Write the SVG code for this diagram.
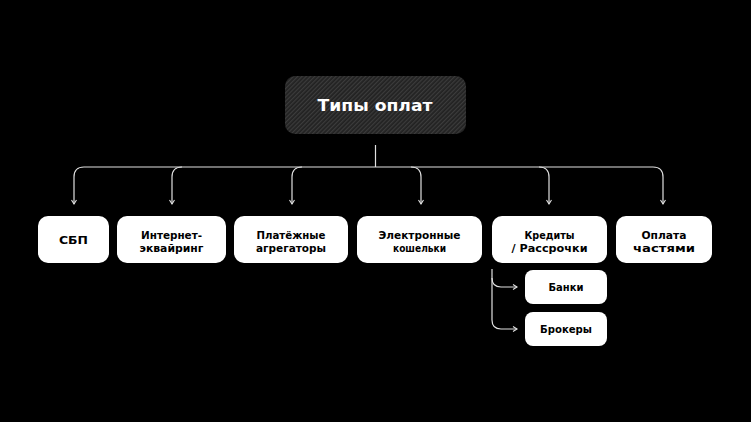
<svg xmlns="http://www.w3.org/2000/svg" width="751" height="422" viewBox="0 0 751 422">
<style>
.box{fill:#ffffff}
.t{font-family:"DejaVu Sans","Liberation Sans",sans-serif;font-weight:bold;font-size:10px;fill:#000000;text-anchor:middle}
.title{font-family:"DejaVu Sans","Liberation Sans",sans-serif;font-weight:bold;font-size:15px;fill:#ffffff;text-anchor:middle}
.c{fill:none;stroke:#e0e0e0;stroke-width:1.2}
</style>
<defs>
<pattern id="hatch" width="3" height="3" patternUnits="userSpaceOnUse" patternTransform="rotate(45)">
<rect width="3" height="3" fill="#222222"/>
<rect width="1.2" height="3" fill="#3c3c3c"/>
</pattern>
<marker id="ah" viewBox="0 0 8 8" refX="6" refY="4" markerWidth="8" markerHeight="8" markerUnits="userSpaceOnUse" orient="auto">
<path d="M2,1.5 L6,4 L2,6.5" fill="none" stroke="#e0e0e0" stroke-width="1.1"/>
</marker>
</defs>
<rect width="751" height="422" fill="#000000"/>
<g id="connectors">
<path class="c" d="M375.5,145 L375.5,167"/>
<path class="c" d="M84,167 L653,167"/>
<path class="c" d="M84,167 Q74,167 74,177 L74,204" marker-end="url(#ah)"/>
<path class="c" d="M182,167 Q172,167 172,177 L172,204" marker-end="url(#ah)"/>
<path class="c" d="M302,167 Q292,167 292,177 L292,204" marker-end="url(#ah)"/>
<path class="c" d="M411,167 Q421,167 421,177 L421,204" marker-end="url(#ah)"/>
<path class="c" d="M539,167 Q549,167 549,177 L549,204" marker-end="url(#ah)"/>
<path class="c" d="M653,167 Q663,167 663,177 L663,204" marker-end="url(#ah)"/>
<path class="c" d="M492,269 L492,278 Q492,287 501,287 L517,287" marker-end="url(#ah)"/>
<path class="c" d="M492,278 L492,320 Q492,329 501,329 L517,329" marker-end="url(#ah)"/>
</g>
<g id="root">
<rect x="285" y="76" width="181" height="58" rx="10" fill="url(#hatch)"/>
<text class="title" x="375" y="111" textLength="115" lengthAdjust="spacingAndGlyphs">Типы оплат</text>
</g>
<g id="sbp">
<rect class="box" x="38" y="216" width="71" height="47" rx="10"/>
<text class="t" x="73.5" y="243.5" textLength="29" lengthAdjust="spacingAndGlyphs">СБП</text>
</g>
<g id="internet">
<rect class="box" x="117" y="216" width="109" height="47" rx="10"/>
<text class="t" x="171.5" y="239" textLength="61" lengthAdjust="spacingAndGlyphs">Интернет-</text>
<text class="t" x="171.5" y="252" textLength="64" lengthAdjust="spacingAndGlyphs">эквайринг</text>
</g>
<g id="aggregators">
<rect class="box" x="234" y="216" width="114" height="47" rx="10"/>
<text class="t" x="291" y="239" textLength="69" lengthAdjust="spacingAndGlyphs">Платёжные</text>
<text class="t" x="291" y="252" textLength="70" lengthAdjust="spacingAndGlyphs">агрегаторы</text>
</g>
<g id="wallets">
<rect class="box" x="357" y="216" width="125" height="47" rx="10"/>
<text class="t" x="419.5" y="239" textLength="82" lengthAdjust="spacingAndGlyphs">Электронные</text>
<text class="t" x="419.5" y="252" textLength="53" lengthAdjust="spacingAndGlyphs">кошельки</text>
</g>
<g id="credits">
<rect class="box" x="492" y="216" width="115" height="47" rx="10"/>
<text class="t" x="549.5" y="239" textLength="50" lengthAdjust="spacingAndGlyphs">Кредиты</text>
<text class="t" x="549.5" y="252" textLength="76" lengthAdjust="spacingAndGlyphs">/ Рассрочки</text>
</g>
<g id="parts">
<rect class="box" x="616" y="216" width="96" height="47" rx="10"/>
<text class="t" x="664" y="239" textLength="45" lengthAdjust="spacingAndGlyphs">Оплата</text>
<text class="t" x="664" y="252" textLength="62" lengthAdjust="spacingAndGlyphs">частями</text>
</g>
<g id="banks">
<rect class="box" x="525" y="270" width="82" height="34" rx="8"/>
<text class="t" x="566" y="291" textLength="35" lengthAdjust="spacingAndGlyphs">Банки</text>
</g>
<g id="brokers">
<rect class="box" x="525" y="312" width="82" height="34" rx="8"/>
<text class="t" x="566" y="333" textLength="52" lengthAdjust="spacingAndGlyphs">Брокеры</text>
</g>
</svg>
